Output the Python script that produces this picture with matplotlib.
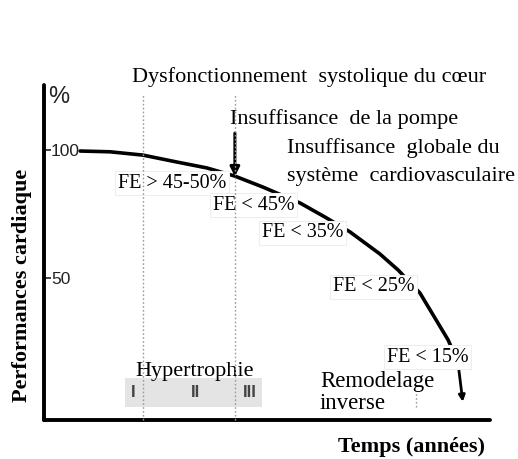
import matplotlib.pyplot as plt
from matplotlib.patches import Rectangle

# cardiac performance (%) over time (arbitrary units 0-100)
perf_x = [8.1, 14.8, 22.2, 29.8, 36.5, 42.8, 49.1, 57.4, 63.0, 68.6, 75.3, 79.4, 84.3, 90.6, 92.8, 93.9]
perf_y = [99.6, 99.3, 98.0, 95.3, 93.0, 89.8, 85.5, 79.3, 73.8, 68.0, 59.4, 53.1, 44.1, 25.8, 17.2, 1.6]

yticks = [50, 100]
ytick_labels = ['50', '100']

# FE stage labels: text, left x, centre y
fe_labels = ['FE > 45-50%', 'FE < 45%', 'FE < 35%', 'FE < 25%', 'FE < 15%']
fe_x = [16.6, 37.9, 48.9, 64.8, 76.9]
fe_y = [87.1, 78.5, 67.6, 46.5, 19.1]

# dotted stage boundaries
stage_x = [22.2, 42.8]

# hypertrophy band and its grades
band_x = [18.2, 48.9]
band_y = [-0.4, 10.9]
grades = ['I', 'II', 'III']
grade_x = [20.0, 33.9, 46.2]

SERIF = ['Liberation Serif', 'DejaVu Serif']
SANS = ['Liberation Sans', 'DejaVu Sans']

fig = plt.figure(figsize=(5.18, 4.59), dpi=100)
ax = fig.add_axes([44 / 518, 39 / 459, 446 / 518, 335 / 459])
ax.set_xlim(0, 100)
ax.set_ylim(-5.5, 125.4)

for s in ['top', 'right']:
    ax.spines[s].set_visible(False)
for s in ['left', 'bottom']:
    ax.spines[s].set_linewidth(2.8)
    ax.spines[s].set_capstyle('round')

ax.set_xticks([])
ax.set_yticks(yticks)
ax.set_yticklabels(ytick_labels, family=SANS, fontsize=12.5, color='#222222')
ax.tick_params(axis='y', direction='in', length=5, width=1.2, pad=-5, color='#222222')
for lab in ax.get_yticklabels():
    lab.set_horizontalalignment('left')

ax.text(1.0, 120.7, '%', family=SANS, fontsize=17, color='#222222',
        ha='left', va='center', clip_on=False)

# curve
ax.plot(perf_x[:-1], perf_y[:-1], color='black', lw=2.6, zorder=2,
        solid_capstyle='round', solid_joinstyle='round')
ax.annotate('', xy=(perf_x[-1], perf_y[-1]), xytext=(perf_x[-2], perf_y[-2]),
            arrowprops=dict(arrowstyle='-|>', color='black', lw=2.0,
                            mutation_scale=9, shrinkA=0, shrinkB=0), zorder=2)

# dotted verticals
for sx in stage_x:
    ax.plot([sx, sx], [-5.5, 121.5], color='#9a9a9a', lw=1.0,
            linestyle=(0, (1.2, 1.6)), zorder=5, clip_on=False)
ax.plot([83.4, 83.4], [-0.5, 5.5], color='#9a9a9a', lw=1.0,
        linestyle=(0, (1.2, 1.6)), zorder=5)

# hypertrophy band
ax.add_patch(Rectangle((band_x[0], band_y[0]), band_x[1] - band_x[0], band_y[1] - band_y[0],
                       facecolor='#e4e4e4', edgecolor='none', zorder=1))
for g, gx in zip(grades, grade_x):
    ax.text(gx, 5.1, g, family=SANS, fontsize=12, fontweight='bold',
            color='#444444', ha='center', va='center', zorder=3)
ax.text(20.4, 13.3, 'Hypertrophie', family=SERIF, fontsize=16,
        ha='left', va='center', zorder=3)

# stage labels with white boxes hiding the curve
for t, tx, ty in zip(fe_labels, fe_x, fe_y):
    ax.text(tx, ty, t, family=SERIF, fontsize=14.5, ha='left', va='center', zorder=3,
            bbox=dict(facecolor='white', edgecolor='#eeeeee', lw=0.8, pad=2.0))

ax.text(61.9, 9.6, 'Remodelage', family=SERIF, fontsize=16.5, ha='left', va='center', zorder=3)
ax.text(61.9, 0.8, 'inverse', family=SERIF, fontsize=16.5, ha='left', va='center', zorder=3)

# annotations above the curve
ax.text(19.7, 128.5, 'Dysfonctionnement  systolique du cœur', family=SERIF, fontsize=16,
        ha='left', va='center', clip_on=False)
ax.text(41.7, 112.1, 'Insuffisance  de la pompe', family=SERIF, fontsize=16,
        ha='left', va='center')
ax.annotate('', xy=(42.8, 89.6), xytext=(42.8, 106.6),
            arrowprops=dict(arrowstyle='-|>', color='black', lw=2.2,
                            mutation_scale=14, shrinkA=0, shrinkB=0))
ax.text(54.5, 100.8, 'Insuffisance  globale du', family=SERIF, fontsize=16,
        ha='left', va='center')
ax.text(54.5, 89.5, 'système  cardiovasculaire', family=SERIF, fontsize=16,
        ha='left', va='center', clip_on=False)

# axis titles
ax.text(-5.0, 47, 'Performances cardiaque', family=SERIF, fontsize=16, fontweight='bold',
        rotation=90, ha='center', va='center', clip_on=False)
ax.text(98.8, -16.0, 'Temps (années)', family=SERIF, fontsize=16, fontweight='bold',
        ha='right', va='center', clip_on=False)

fig.savefig('out.png', dpi=100)
